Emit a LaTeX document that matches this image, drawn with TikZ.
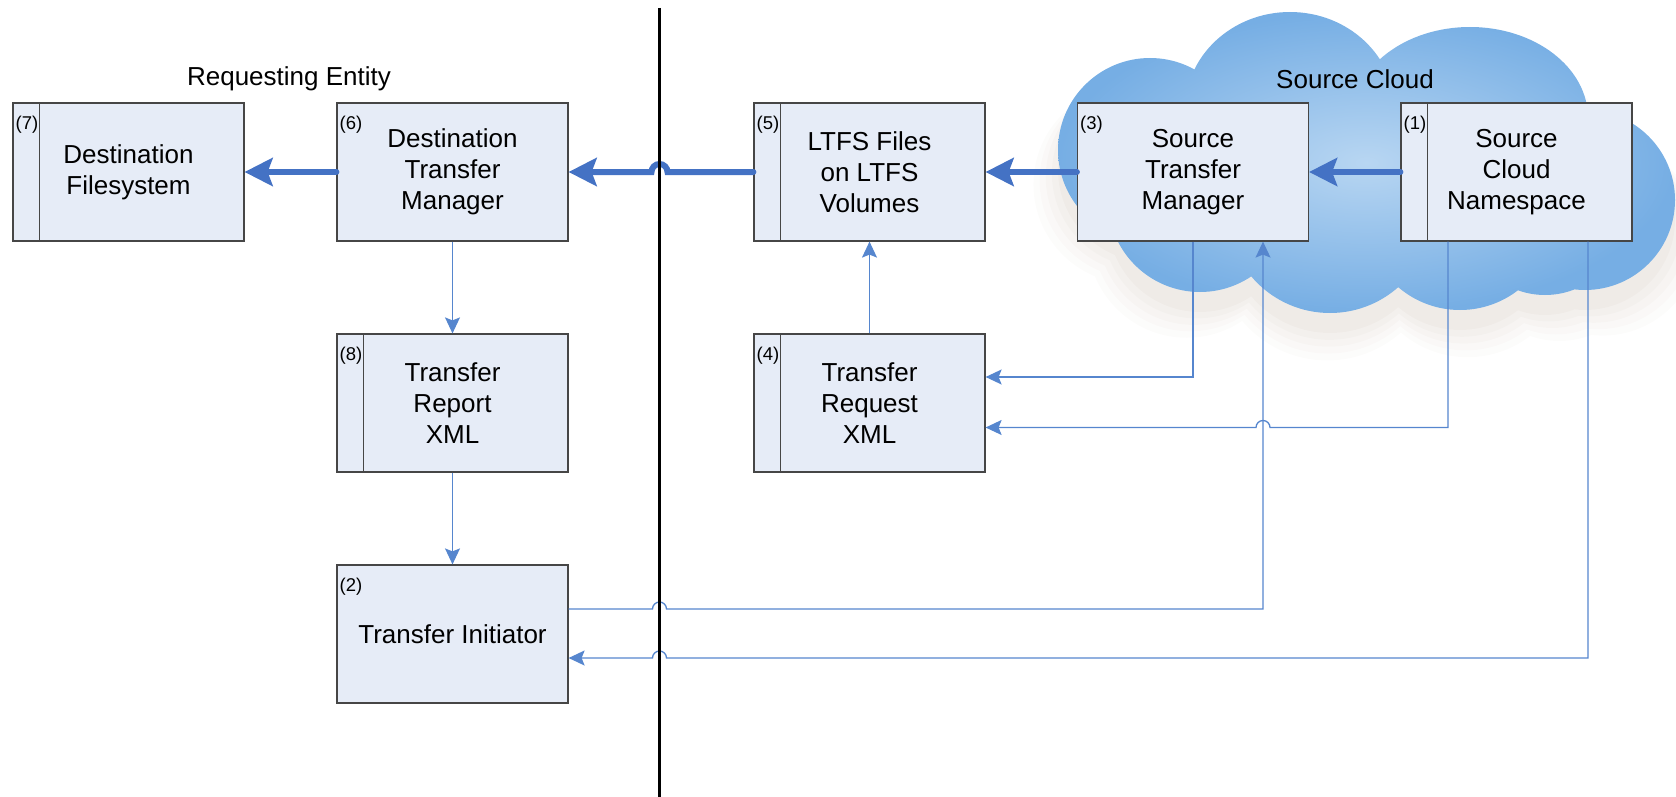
\documentclass[tikz,border=0pt]{standalone}
\usepackage{fontspec}
\setmainfont{Liberation Sans}
\usetikzlibrary{arrows.meta,calc}
\definecolor{boxfill}{RGB}{230,236,247}
\definecolor{boxline}{RGB}{70,70,70}
\definecolor{arrowblue}{RGB}{68,114,196}
\definecolor{thinblue}{RGB}{86,134,206}
\definecolor{cloudin}{RGB}{184,214,242}
\definecolor{cloudout}{RGB}{118,174,228}
\definecolor{shadowc}{RGB}{205,192,180}
\tikzset{
  cloudpath/.style={insert path={
    (1150,150) circle[radius=92pt]
    (1290,110) ellipse[x radius=105pt, y radius=98pt]
    (1470,118) ellipse[x radius=118pt, y radius=91pt]
    (1585,200) circle[radius=90pt]
    (1330,210) circle[radius=103pt]
    (1460,215) circle[radius=95pt]
    (1200,200) circle[radius=92pt]
    (1545,215) circle[radius=80pt]
    (1380,170) circle[radius=110pt]}},
  box/.style={draw=boxline, fill=boxfill, line width=1.2pt, minimum width=231pt,
    minimum height=138pt, inner sep=0pt, align=center,
    font=\fontsize{26}{31}\selectfont},
  num/.style={anchor=west, inner sep=0pt, font=\fontsize{18.5}{20}\selectfont},
  title/.style={inner sep=0pt, font=\fontsize{26}{31}\selectfont},
  divider/.style={draw=boxline, line width=1.2pt},
  thickarrow/.style={draw=arrowblue, line width=6pt, line cap=round,
    -{Stealth[length=28pt,width=28pt,inset=5pt]}},
  thinarrow/.style={draw=thinblue, line width=1.3pt,
    -{Stealth[length=16pt,width=15pt,inset=3pt]}},
}
\begin{document}
\begin{tikzpicture}[x=1pt,y=-1pt]
\useasboundingbox (0,0) rectangle (1676,797);
% cloud shadow
\foreach \s/\o/\dy in {1.08/0.05/36, 1.06/0.06/32, 1.04/0.07/28, 1.02/0.08/24, 1.0/0.1/20}{
  \begin{scope}[shift={(1365,170+\dy)}, scale=\s, shift={(-1365,-170)}]
    \fill[shadowc, opacity=\o, cloudpath];
  \end{scope}
}
% cloud
\shade[inner color=cloudin, outer color=cloudout, cloudpath];

% titles
\node[title] (tre) at (289,79) {Requesting Entity};
\node[title] (tsc) at (1355,79) {Source Cloud};

% boxes
\node[box] (b7) at (128.5,172) {Destination\\Filesystem};
\node[box] (b6) at (452.5,172) {Destination\\Transfer\\Manager};
\node[box] (b8) at (452.5,403) {Transfer\\Report\\XML};
\node[box] (b2) at (452.5,634) {Transfer Initiator};
\node[box] (b5) at (869.5,172) {LTFS Files\\on LTFS\\Volumes};
\node[box] (b4) at (869.5,403) {Transfer\\Request\\XML};
\node[box] (b3) at (1193,172) {Source\\Transfer\\Manager};
\node[box] (b1) at (1516.5,172) {Source\\Cloud\\Namespace};

\foreach \b in {b7,b8,b5,b4,b1}{
  \draw[divider] ([xshift=27pt]\b.north west) -- ([xshift=27pt]\b.south west);
}
\node[num] (n7) at ([xshift=3pt,yshift=-22pt]b7.north west) {(7)};
\node[num] (n6) at ([xshift=3pt,yshift=-22pt]b6.north west) {(6)};
\node[num] (n8) at ([xshift=3pt,yshift=-22pt]b8.north west) {(8)};
\node[num] (n2) at ([xshift=3pt,yshift=-22pt]b2.north west) {(2)};
\node[num] (n5) at ([xshift=3pt,yshift=-22pt]b5.north west) {(5)};
\node[num] (n4) at ([xshift=3pt,yshift=-22pt]b4.north west) {(4)};
\node[num] (n3) at ([xshift=3pt,yshift=-22pt]b3.north west) {(3)};
\node[num] (n1) at ([xshift=3pt,yshift=-22pt]b1.north west) {(1)};

% helper coordinates
\coordinate (vtop) at (659.5,8);
\coordinate (vbot) at (659.5,797);
\coordinate (r4a) at ([yshift=26pt]b4.east);
\coordinate (r4b) at ([yshift=-24.5pt]b4.east);
\coordinate (o2a) at ([yshift=25pt]b2.east);
\coordinate (o2b) at ([yshift=-24pt]b2.east);
\coordinate (j3) at ([xshift=70pt]b3.south);
\coordinate (s1a) at ([xshift=-68.5pt]b1.south);
\coordinate (s1b) at ([xshift=71.5pt]b1.south);

% thick arrows
\draw[thickarrow] (b1.west) -- (b3.east);
\draw[thickarrow] (b3.west) -- (b5.east);
\draw[thickarrow] (b5.west) -- ($(vtop |- b5.west)+(8,0)$)
  arc[start angle=0, end angle=180, radius=8pt] -- (b6.east);
\draw[thickarrow] (b6.west) -- (b7.east);

% thin arrows
\draw[thinarrow] (b6.south) -- (b8.north);
\draw[thinarrow] (b8.south) -- (b2.north);
\draw[thinarrow] (b4.north) -- (b5.south);
\draw[thinarrow] (b3.south) |- (r4a);
\draw[thinarrow] (s1a) |- ($(j3 |- r4b)+(7,0)$)
  arc[start angle=0, end angle=180, radius=7pt] -- (r4b);
\draw[thinarrow] (o2a) -- ($(vtop |- o2a)+(-7,0)$)
  arc[start angle=180, end angle=0, radius=7pt] -- (j3 |- o2a) -- (j3);
\draw[thinarrow] (s1b) |- ($(vtop |- o2b)+(7,0)$)
  arc[start angle=0, end angle=180, radius=7pt] -- (o2b);

% separator
\draw[black, line width=3.5pt] (vtop) -- (vbot);
\end{tikzpicture}
\end{document}
